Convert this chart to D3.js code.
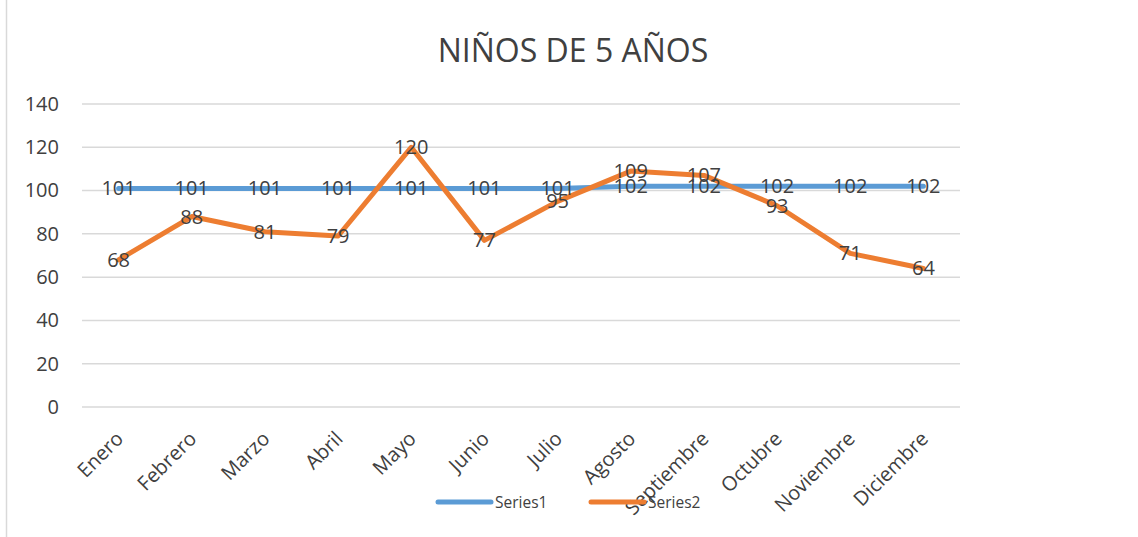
<!DOCTYPE html>
<html>
<head>
<meta charset="utf-8">
<script src="https://cdn.jsdelivr.net/npm/d3@7"></script>
<style>
  body { margin: 0; background: #fff; }
  text { font-family: "Open Sans", sans-serif; fill: #404040; }
</style>
</head>
<body>
<div class="chart"></div>
<script>
const months = ["Enero","Febrero","Marzo","Abril","Mayo","Junio","Julio","Agosto","Septiembre","Octubre","Noviembre","Diciembre"];
const series1 = [101,101,101,101,101,101,101,102,102,102,102,102];
const series2 = [68,88,81,79,120,77,95,109,107,93,71,64];
const yTicks = [0,20,40,60,80,100,120,140];
const seriesNames = ["Series1","Series2"];
const colors = ["#5B9BD5","#ED7D31"];

const svgwidth = 1138, svgheight = 537;
const margin = ({top: 104, right: 178, bottom: 130, left: 82});
const width = svgwidth - margin.left - margin.right;
const height = svgheight - margin.top - margin.bottom;

const root = d3.select(".chart").append("svg")
    .attr("width", svgwidth)
    .attr("height", svgheight);

// left frame edge
root.append("line")
    .attr("x1", 6.5).attr("x2", 6.5)
    .attr("y1", 0).attr("y2", svgheight)
    .attr("stroke", "#d9d9d9").attr("stroke-width", 1.5);

root.append("text")
    .attr("x", 573).attr("y", 62)
    .attr("text-anchor", "middle")
    .attr("font-size", 32)
    .text("NIÑOS DE 5 AÑOS");

const svg = root.append("g")
    .attr("transform", `translate(${margin.left},${margin.top})`);

const xScale = d3.scaleBand().domain(months).range([0, width]);
const yScale = d3.scaleLinear().domain([0, 140]).range([height, 0]);

// gridlines
svg.append("g").selectAll("line")
    .data(yTicks)
    .enter().append("line")
    .attr("x1", 0).attr("x2", width)
    .attr("y1", d => yScale(d)).attr("y2", d => yScale(d))
    .attr("stroke", "#d9d9d9").attr("stroke-width", 1.5);

const yAxis = d3.axisLeft(yScale).tickValues(yTicks).tickSize(0).tickPadding(23);
svg.append("g").attr("class", "axis y-axis").call(yAxis)
    .call(g => g.select(".domain").remove())
    .selectAll("text")
    .attr("font-size", 20)
    .attr("font-family", "Open Sans, sans-serif")
    .attr("fill", "#404040");

const xAxis = d3.axisBottom(xScale).tickSize(0);
svg.append("g").attr("class", "axis x-axis")
    .attr("transform", `translate(0,${height})`)
    .call(xAxis)
    .call(g => g.select(".domain").remove())
    .selectAll("text")
    .attr("font-size", 20)
    .attr("font-family", "Open Sans, sans-serif")
    .attr("fill", "#404040")
    .attr("text-anchor", "end")
    .attr("dy", null)
    .attr("y", 0)
    .attr("transform", "translate(6,33) rotate(-45)");

const line = d3.line()
    .x((d, i) => xScale(months[i]) + xScale.bandwidth() / 2)
    .y(d => yScale(d));

[series1, series2].forEach((s, k) => {
    svg.append("path")
        .datum(s)
        .attr("fill", "none")
        .attr("stroke", colors[k])
        .attr("stroke-width", 5)
        .attr("stroke-linejoin", "round")
        .attr("stroke-linecap", "round")
        .attr("d", line);
});

[series1, series2].forEach((s, k) => {
    svg.append("g").selectAll("text")
        .data(s)
        .enter().append("text")
        .attr("x", (d, i) => xScale(months[i]) + xScale.bandwidth() / 2)
        .attr("y", d => yScale(d) + 7)
        .attr("text-anchor", "middle")
        .attr("font-size", 20)
        .text(d => d);
});

// legend
const legend = root.append("g");
seriesNames.forEach((n, k) => {
    const lx = 438 + k * 153;
    legend.append("line")
        .attr("x1", lx).attr("x2", lx + 53)
        .attr("y1", 502).attr("y2", 502)
        .attr("stroke", colors[k]).attr("stroke-width", 5)
        .attr("stroke-linecap", "round");
    legend.append("text")
        .attr("x", lx + 57).attr("y", 507.5)
        .attr("font-size", 15.5)
        .text(n);
});
</script>
</body>
</html>
